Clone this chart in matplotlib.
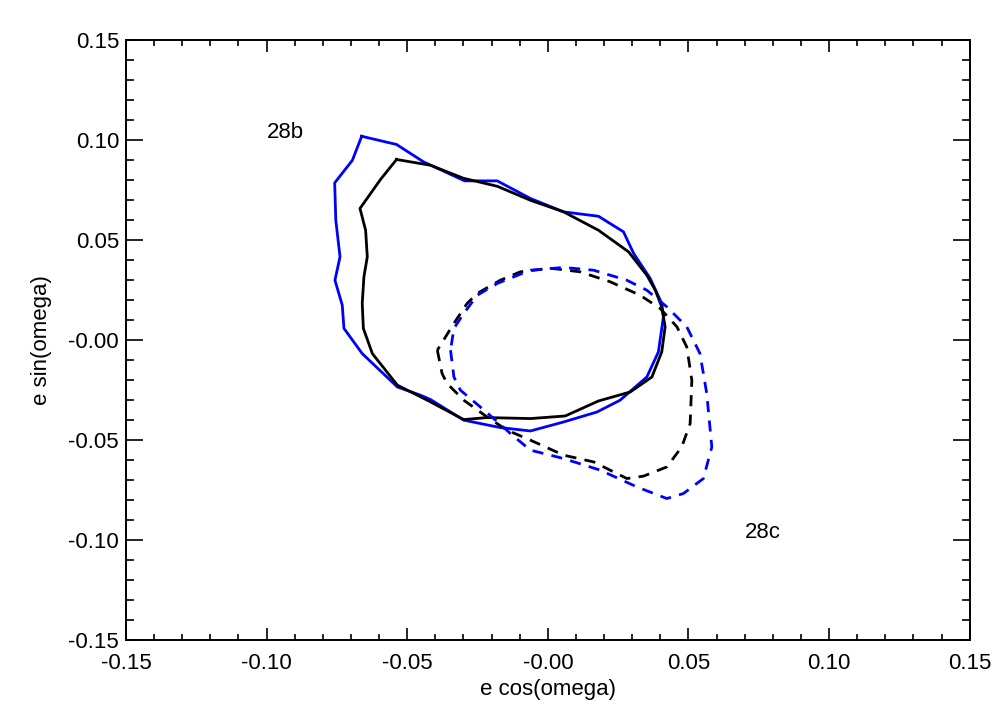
import matplotlib.pyplot as plt
from matplotlib.ticker import MultipleLocator, FuncFormatter

plt.rcParams['font.family'] = ['Liberation Sans', 'DejaVu Sans']

# 28b, solid contours (closed polygons: e cos w, e sin w)
b_blue_x = [-0.0662, -0.0538, -0.0442, -0.0296, -0.0180, -0.0062, 0.0056, 0.0180,
            0.0269, 0.0305, 0.0364, 0.0405, 0.0411, 0.0393, 0.0352, 0.0257, 0.0175,
            0.0056, -0.0062, -0.0169, -0.0299, -0.0417, -0.0453, -0.0535, -0.0660,
            -0.0725, -0.0731, -0.0757, -0.0739, -0.0754, -0.0758, -0.0695]
b_blue_y = [0.1020, 0.0979, 0.0892, 0.0797, 0.0797, 0.0709, 0.0642, 0.0620,
            0.0542, 0.0434, 0.0309, 0.0184, 0.0117, -0.0059, -0.0184, -0.0300, -0.0359,
            -0.0409, -0.0454, -0.0437, -0.0400, -0.0297, -0.0275, -0.0234, -0.0067,
            0.0059, 0.0175, 0.0300, 0.0417, 0.0600, 0.0787, 0.0900]

b_black_x = [-0.0538, -0.0417, -0.0300, -0.0180, -0.0062, 0.0056, 0.0180, 0.0287,
             0.0352, 0.0382, 0.0405, 0.0417, 0.0405, 0.0370, 0.0293, 0.0180, 0.0062,
             -0.0062, -0.0216, -0.0299, -0.0429, -0.0535, -0.0624, -0.0656, -0.0660,
             -0.0654, -0.0642, -0.0648, -0.0668, -0.0595]
b_black_y = [0.0904, 0.0875, 0.0810, 0.0770, 0.0700, 0.0642, 0.0550, 0.0442,
             0.0325, 0.0250, 0.0167, 0.0067, -0.0059, -0.0184, -0.0259, -0.0304, -0.0379,
             -0.0392, -0.0387, -0.0397, -0.0300, -0.0225, -0.0067, 0.0059, 0.0184,
             0.0317, 0.0417, 0.0550, 0.0659, 0.0804]

# 28c, dashed contours
c_black_x = [-0.0393, -0.0376, -0.0358, -0.0299, -0.0216, -0.0145, -0.0062, 0.0056,
             0.0163, 0.0281, 0.0340, 0.0423, 0.0476, 0.0506, 0.0512, 0.0494, 0.0459,
             0.0399, 0.0328, 0.0222, 0.0115, 0.0009, -0.0098, -0.0169, -0.0251,
             -0.0287, -0.0334]
c_black_y = [-0.0050, -0.0167, -0.0217, -0.0300, -0.0384, -0.0450, -0.0500, -0.0575,
             -0.0609, -0.0692, -0.0680, -0.0634, -0.0534, -0.0417, -0.0200, -0.0034, 0.0067,
             0.0159, 0.0225, 0.0292, 0.0342, 0.0360, 0.0342, 0.0300, 0.0234,
             0.0184, 0.0084]

c_blue_x = [-0.0346, -0.0334, -0.0311, -0.0240, -0.0186, -0.0133, -0.0062, 0.0056,
            0.0186, 0.0317, 0.0423, 0.0482, 0.0553, 0.0583, 0.0565, 0.0541, 0.0494,
            0.0423, 0.0352, 0.0281, 0.0163, 0.0056, -0.0062, -0.0180, -0.0251,
            -0.0299, -0.0334]
c_blue_y = [-0.0050, -0.0184, -0.0250, -0.0334, -0.0400, -0.0467, -0.0550, -0.0592,
            -0.0650, -0.0734, -0.0792, -0.0767, -0.0692, -0.0534, -0.0267, -0.0067, 0.0067,
            0.0167, 0.0250, 0.0300, 0.0350, 0.0364, 0.0350, 0.0284, 0.0225,
            0.0134, 0.0059]


def closed(xs, ys):
    return xs + xs[:1], ys + ys[:1]


fig = plt.figure(figsize=(10.08, 7.2), dpi=100)
ax = fig.add_axes([0.125, 0.111, 0.837, 0.833])

ax.plot(*closed(b_blue_x, b_blue_y), color='#0000ff', lw=2.0)
ax.plot(*closed(b_black_x, b_black_y), color='black', lw=2.0)
ax.plot(*closed(c_black_x, c_black_y), color='black', lw=2.0, ls=(0, (4, 3)))
ax.plot(*closed(c_blue_x, c_blue_y), color='#0000ff', lw=2.0, ls=(0, (4, 3)))

ax.text(-0.10, 0.104, '28b', fontsize=16, va='center', ha='left')
ax.text(0.070, -0.096, '28c', fontsize=16, va='center', ha='left')

ax.set_xlim(-0.15, 0.15)
ax.set_ylim(-0.15, 0.15)
ax.xaxis.set_major_locator(MultipleLocator(0.05))
ax.xaxis.set_minor_locator(MultipleLocator(0.01))
ax.yaxis.set_major_locator(MultipleLocator(0.05))
ax.yaxis.set_minor_locator(MultipleLocator(0.01))

fmt = FuncFormatter(lambda v, p: '-0.00' if abs(v) < 1e-9 else f'{v:.2f}')
ax.xaxis.set_major_formatter(fmt)
ax.yaxis.set_major_formatter(fmt)

ax.tick_params(which='both', direction='in', top=True, right=True,
               labelsize=16, width=1.2, color='black')
ax.tick_params(axis='x', which='major', length=8.6, pad=9)
ax.tick_params(axis='x', which='minor', length=4.6)
ax.tick_params(axis='y', which='major', length=12.2, pad=5)
ax.tick_params(axis='y', which='minor', length=5.8)
for s in ax.spines.values():
    s.set_linewidth(1.4)

ax.set_xlabel('e cos(omega)', fontsize=16, labelpad=4)
ax.set_ylabel('e sin(omega)', fontsize=16, labelpad=12)

fig.savefig('out.png', dpi=100)
